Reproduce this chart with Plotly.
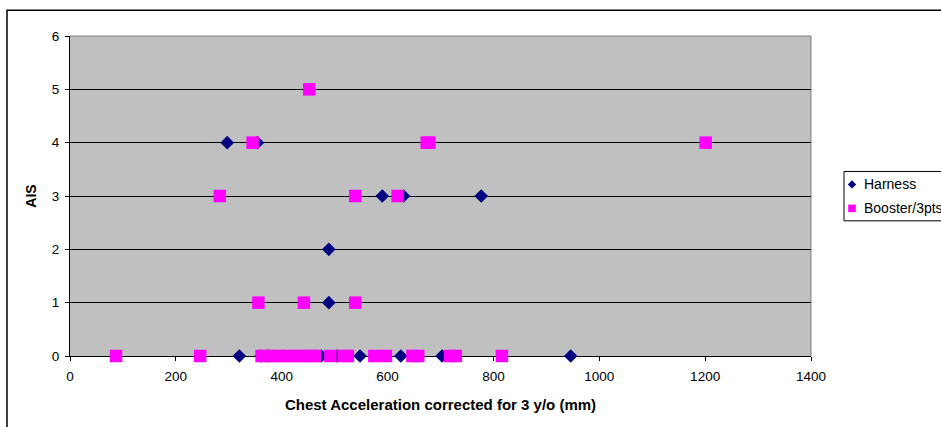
import plotly.graph_objects as go

# Harness (navy diamonds)
harness_x = [297, 354, 590, 630, 777, 489, 489,
             320, 361, 376, 475, 505, 548, 625, 703, 946]
harness_y = [4, 4, 3, 3, 3, 2, 1,
             0, 0, 0, 0, 0, 0, 0, 0, 0]

# Booster/3pts (magenta squares)
booster_x = [452, 345, 674, 679, 1201, 283, 539, 619, 356, 442, 539,
             87, 246, 362, 378, 395, 410, 425, 440, 455, 463,
             492, 518, 525, 575, 597, 647, 658, 718, 729, 816]
booster_y = [5, 4, 4, 4, 4, 3, 3, 3, 1, 1, 1,
             0, 0, 0, 0, 0, 0, 0, 0, 0, 0,
             0, 0, 0, 0, 0, 0, 0, 0, 0, 0]

series_names = ["Harness", "Booster/3pts"]
x_ticks = [0, 200, 400, 600, 800, 1000, 1200, 1400]
y_ticks = [0, 1, 2, 3, 4, 5, 6]

NAVY = "#000080"
MAGENTA = "#FF00FF"
FONT = "Liberation Sans, Arial, sans-serif"

fig = go.Figure()
fig.add_trace(go.Scatter(x=harness_x, y=harness_y, mode="markers", name=series_names[0],
                         marker=dict(symbol="diamond", size=10.5, color=NAVY, line=dict(width=0)),
                         cliponaxis=False, showlegend=False))
fig.add_trace(go.Scatter(x=booster_x, y=booster_y, mode="markers", name=series_names[1],
                         marker=dict(symbol="square", size=12.5, color=MAGENTA, line=dict(width=0)),
                         cliponaxis=False, showlegend=False))

L, R, T, B = 70, 811, 35.7, 356.5
W, H = 941, 427
pw, ph = R - L, B - T

def px(x):
    return (x - L) / pw

def py(y):
    return (B - y) / ph

# outer chart frame (right and bottom edges lie outside the picture)
shapes = [
    dict(type="line", xref="paper", yref="paper", x0=0, x1=1, y0=1, y1=1,
         line=dict(color="#808080", width=1), layer="below"),
    dict(type="line", xref="paper", yref="paper", x0=1, x1=1, y0=0, y1=1,
         line=dict(color="#808080", width=1), layer="below"),
    dict(type="rect", xref="paper", yref="paper", x0=px(7), x1=px(990), y0=py(10), y1=py(470),
         line=dict(color="black", width=1.5), fillcolor="rgba(0,0,0,0)", layer="above"),
    # legend box
    dict(type="rect", xref="paper", yref="paper", x0=px(844), x1=px(990), y0=py(171.5), y1=py(221),
         line=dict(color="black", width=1), fillcolor="white", layer="above"),
]
# legend symbols
lx, ly1, ly2 = 852, 184.5, 208.5
d = 4.2
shapes.append(dict(type="path", xref="paper", yref="paper",
                   path=f"M {px(lx - d)} {py(ly1)} L {px(lx)} {py(ly1 - d)} L {px(lx + d)} {py(ly1)} L {px(lx)} {py(ly1 + d)} Z",
                   fillcolor=NAVY, line=dict(width=0), layer="above"))
s = 3.8
shapes.append(dict(type="rect", xref="paper", yref="paper",
                   x0=px(lx - s), x1=px(lx + s), y0=py(ly2 + s), y1=py(ly2 - s),
                   fillcolor=MAGENTA, line=dict(width=0), layer="above"))

annotations = [
    dict(xref="paper", yref="paper", x=px(862), y=py(ly1), xanchor="left", yanchor="middle",
         text=series_names[0], showarrow=False, font=dict(family=FONT, size=14, color="black")),
    dict(xref="paper", yref="paper", x=px(862), y=py(ly2), xanchor="left", yanchor="middle",
         text=series_names[1], showarrow=False, font=dict(family=FONT, size=14, color="black")),
]

fig.update_layout(
    width=W, height=H,
    margin=dict(l=L, r=W - R, t=T, b=H - B, autoexpand=False),
    paper_bgcolor="white",
    plot_bgcolor="#C0C0C0",
    font=dict(family=FONT, size=13.5, color="black"),
    showlegend=False,
    xaxis=dict(range=[0, 1400], tickvals=x_ticks, ticktext=[str(v) for v in x_ticks],
               showgrid=False, zeroline=False, showline=True, linecolor="black", linewidth=1,
               ticks="outside", ticklen=4, tickcolor="black", layer="below traces",
               tickfont=dict(size=13.5), ticklabelstandoff=4,
               title=dict(text="<b>Chest Acceleration corrected for 3 y/o (mm)</b>",
                          font=dict(size=15), standoff=16)),
    yaxis=dict(range=[0, 6], tickvals=y_ticks, ticktext=[str(v) for v in y_ticks],
               showgrid=True, gridcolor="black", gridwidth=1, zeroline=False,
               showline=True, linecolor="black", linewidth=1,
               ticks="outside", ticklen=4, tickcolor="black", layer="below traces",
               tickfont=dict(size=13.5), ticklabelstandoff=3,
               title=dict(text="<b>AIS</b>", font=dict(size=14), standoff=11)),
    shapes=shapes,
    annotations=annotations,
)

fig.write_html("out.html")
